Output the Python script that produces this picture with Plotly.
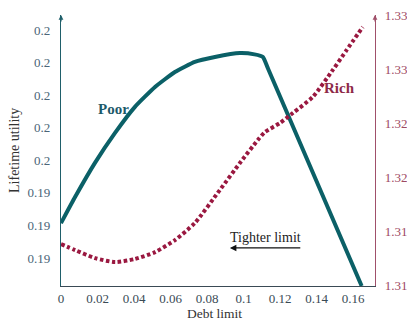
import plotly.graph_objects as go

# Debt limit (x) and lifetime utility values
poor_x = [0.0, 0.0077, 0.0186, 0.0296, 0.0405, 0.0515, 0.0624, 0.0733, 0.0843, 0.0980, 0.1060, 0.1106, 0.1135, 0.1647]
poor_y = [0.19307, 0.19387, 0.19492, 0.19584, 0.19664, 0.19725, 0.19771, 0.19802, 0.19817, 0.19829, 0.19825, 0.19817, 0.19780, 0.19114]

rich_x = [0.0, 0.0077, 0.0186, 0.0296, 0.0405, 0.0515, 0.0624, 0.0733, 0.0870, 0.0980, 0.1078, 0.1117, 0.1199, 0.1270, 0.1379, 0.1489, 0.1565, 0.1653]
rich_y = [1.31304, 1.31259, 1.31200, 1.31170, 1.31193, 1.31244, 1.31333, 1.31459, 1.31704, 1.31904, 1.32074, 1.32133, 1.32200, 1.32274, 1.32393, 1.32593, 1.32741, 1.32911]

x_ticks = [0, 0.02, 0.04, 0.06, 0.08, 0.1, 0.12, 0.14, 0.16]
x_ticktext = ["0", "0.02", "0.04", "0.06", "0.08", "0.1", "0.12", "0.14", "0.16"]
left_ticks = [0.192, 0.193, 0.194, 0.195, 0.196, 0.197, 0.198, 0.199]
left_ticktext = ["0.19", "0.19", "0.19", "0.2", "0.2", "0.2", "0.2", "0.2"]
right_ticks = [1.310, 1.314, 1.318, 1.322, 1.326, 1.330]
right_ticktext = ["1.31", "1.31", "1.32", "1.32", "1.33", "1.33"]

TEAL = "#0b6067"
RED = "#9a1840"
FONT = "Liberation Serif"

fig = go.Figure()
fig.add_trace(go.Scatter(x=poor_x, y=poor_y, mode="lines", name="Poor",
                         line=dict(color=TEAL, width=4, shape="spline", smoothing=0.45),
                         yaxis="y"))
fig.add_trace(go.Scatter(x=rich_x, y=rich_y, mode="lines", name="Rich",
                         line=dict(color=RED, width=4, dash="3.5px,2.5px", shape="spline", smoothing=0.6),
                         yaxis="y2"))

fig.update_layout(
    width=407, height=320,
    margin=dict(l=61, r=32, t=15, b=34, autoexpand=False),
    paper_bgcolor="white", plot_bgcolor="white",
    showlegend=False,
    font=dict(family=FONT, size=13, color="#333333"),
    xaxis=dict(range=[0, 0.172], tickvals=x_ticks, ticktext=x_ticktext, automargin=False,
               showgrid=False, zeroline=False, showline=True, linecolor="#3a4a55", linewidth=1.2,
               ticks="", ticklabelstandoff=0, tickfont=dict(family=FONT, size=13, color="#3a4a55")),
    yaxis=dict(range=[0.19114, 0.19946], tickvals=left_ticks, ticktext=left_ticktext, automargin=False,
               showgrid=False, zeroline=False, showline=True, linecolor="#1f5f6a", linewidth=1.2,
               ticks="", ticklabelstandoff=7, tickfont=dict(family=FONT, size=13, color="#4a6577")),
    yaxis2=dict(range=[1.30993, 1.3300], tickvals=right_ticks, ticktext=right_ticktext, automargin=False,
                overlaying="y", side="right",
                showgrid=False, zeroline=False, showline=True, linecolor="#a0506a", linewidth=1.2,
                ticks="", ticklabelstandoff=6, tickfont=dict(family=FONT, size=13, color="#9e4a62")),
)

# axis titles
fig.add_annotation(x=-0.1465, y=0.502, xref="paper", yref="paper", text="Lifetime utility", textangle=-90,
                   xanchor="center", yanchor="middle",
                   showarrow=False, font=dict(family=FONT, size=14, color="#333333"))
fig.add_annotation(x=0.490, y=-0.1, xref="paper", yref="paper", text="Debt limit",
                   xanchor="center", yanchor="middle",
                   showarrow=False, font=dict(family=FONT, size=13.5, color="#333333"))

fig.add_annotation(x=0.0290, y=0.19657, xref="x", yref="y", text="<b>Poor</b>", showarrow=False,
                   font=dict(family=FONT, size=15, color="#1d5a6a"))
fig.add_annotation(x=0.1527, y=1.32459, xref="x", yref="y2", text="<b>Rich</b>", showarrow=False,
                   font=dict(family=FONT, size=15, color="#8e2a48"))
fig.add_annotation(x=0.1122, y=0.19264, xref="x", yref="y", text="Tighter limit", showarrow=False,
                   font=dict(family=FONT, size=14, color="#222222"))
fig.add_annotation(x=0.0925, y=0.19231, ax=0.1319, ay=0.19231, xref="x", yref="y", axref="x", ayref="y",
                   text="", showarrow=True, arrowhead=2, arrowsize=1, arrowwidth=1.3, arrowcolor="#111111")
# axis arrowheads
fig.add_annotation(x=0, y=1, xref="paper", yref="paper", ax=0, ay=8, text="", showarrow=True,
                   arrowhead=2, arrowsize=0.8, arrowwidth=1.2, arrowcolor="#1f5f6a")
fig.add_annotation(x=1, y=1, xref="paper", yref="paper", ax=0, ay=8, text="", showarrow=True,
                   arrowhead=2, arrowsize=0.8, arrowwidth=1.2, arrowcolor="#a0506a")

fig.write_html("out.html", config={"displayModeBar": False},
               post_script="document.body.style.margin='0';document.body.style.overflow='hidden';")
